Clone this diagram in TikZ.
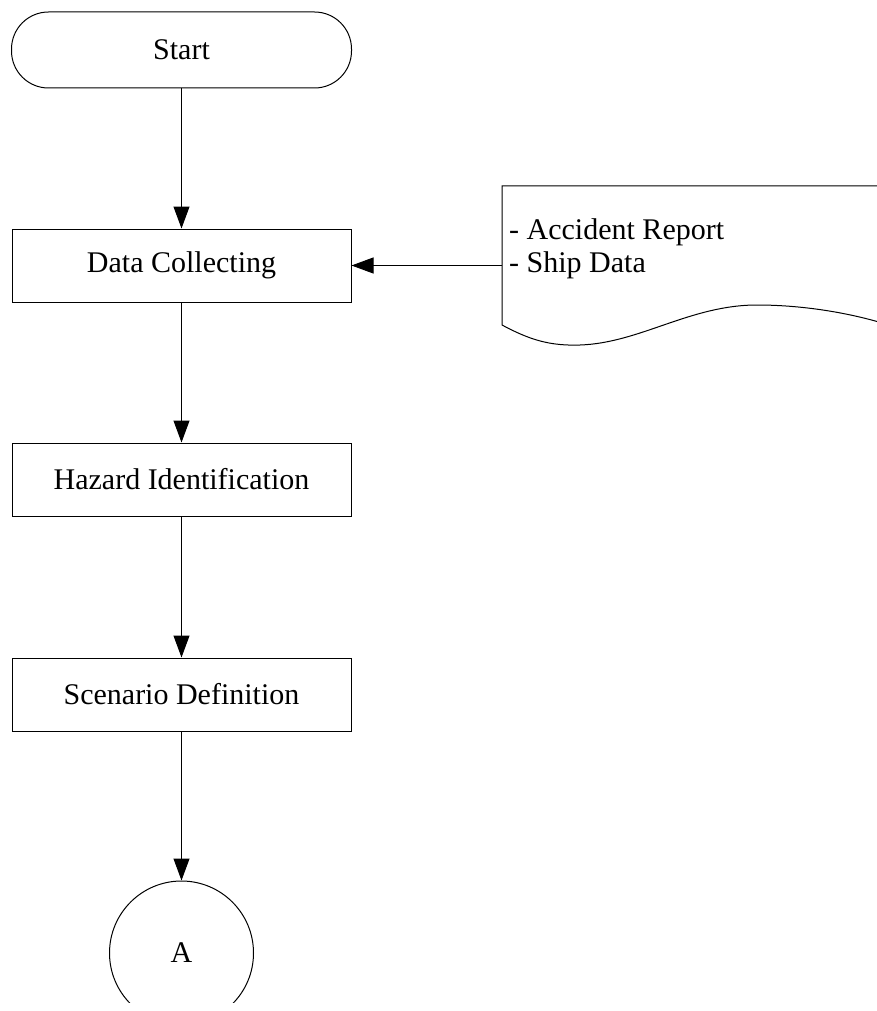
\documentclass[tikz,border=0pt]{standalone}
\usepackage{fontspec}
\setmainfont{Liberation Serif}
\usetikzlibrary{arrows.meta}
\begin{document}
\begin{tikzpicture}[x=1pt,y=-1pt,
  txt/.style={font=\fontsize{30}{33}\selectfont},
  box/.style={draw, line width=1pt, minimum width=339pt, minimum height=73pt, inner sep=0pt, txt},
  arr/.style={line width=1pt, -{Triangle[length=22pt,width=16pt]}}]
\useasboundingbox (0,0) rectangle (877,1011);
\node[box, rounded corners=37pt, minimum height=76pt, minimum width=340pt] (start) at (181.5,50) {Start};
\node[box] (dc) at (181.5,265.5) {Data Collecting};
\node[box] (hz) at (181.5,479.5) {Hazard Identification};
\node[box] (sd) at (181.5,694.5) {Scenario Definition};
\begin{scope}
  \clip (0,0) rectangle (877,1002);
  \node[draw, circle, minimum size=144pt, line width=1pt, inner sep=0pt, txt] (a) at (181.5,953) {A};
\end{scope}
\begin{scope}
  \clip (0,0) rectangle (877,1011);
  \draw[line width=1pt] (900,186) -- (502,186) -- (502,325)
    .. controls (530,340) and (550,346) .. (580,345)
    .. controls (640,343) and (690,305) .. (757,305)
    .. controls (800,305) and (850,312) .. (895,327);
\end{scope}
\coordinate (docin) at (502,265.5);
\node[txt, anchor=base west, inner sep=0pt] (t1) at (509,239) {- Accident Report};
\node[txt, anchor=base west, inner sep=0pt] (t2) at (509,272) {- Ship Data};
\draw[arr] (start) -- (dc);
\draw[arr] (dc) -- (hz);
\draw[arr] (hz) -- (sd);
\draw[arr] (sd) -- (a);
\draw[arr] (docin) -- (dc.east);
\end{tikzpicture}
\end{document}
